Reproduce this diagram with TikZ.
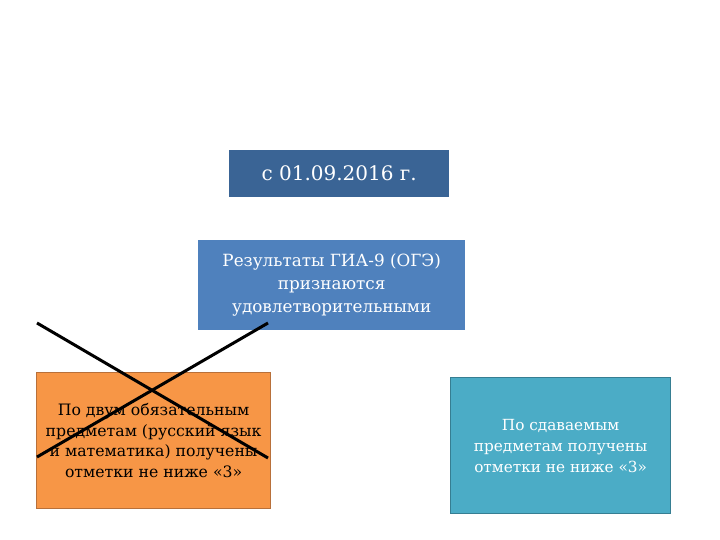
\documentclass[tikz,border=0pt]{standalone}
\usepackage{fontspec}
\setmainfont{DejaVu Serif}
\definecolor{dblue}{HTML}{3A6495}
\definecolor{mblue}{HTML}{4F81BD}
\definecolor{orng}{HTML}{F79646}
\definecolor{orngb}{HTML}{B8703A}
\definecolor{teal}{HTML}{4BACC6}
\definecolor{tealb}{HTML}{367E92}
\begin{document}
\begin{tikzpicture}[x=1pt,y=-1pt,
  boxs/.style={anchor=north west,inner sep=0pt,align=center},
  crossline/.style={line width=3pt,black}]
\useasboundingbox (0,0) rectangle (720,540);
\node[boxs,fill=dblue,minimum width=220pt,minimum height=47pt,text=white,font=\fontsize{20}{22}\selectfont] (date) at (229,150) {с 01.09.2016 г.};
\node[boxs,fill=mblue,minimum width=267pt,minimum height=90pt,text=white,font=\fontsize{16.8}{22.8}\selectfont] (res) at (198,240) {Результаты ГИА-9 (ОГЭ)\\признаются\\удовлетворительными};
\node[boxs,fill=orng,draw=orngb,line width=1.2pt,minimum width=234pt,minimum height=136pt,text=black,font=\fontsize{15.7}{20.8}\selectfont] (obl) at (36,372) {По двум обязательным\\предметам (русский язык\\и математика) получены\\отметки не ниже «3»};
\node[boxs,fill=teal,draw=tealb,line width=1.2pt,minimum width=220pt,minimum height=136pt,text=white,font=\fontsize{15.3}{21}\selectfont] (sd) at (450,377) {По сдаваемым\\предметам получены\\отметки не ниже «3»};
\coordinate (c1) at (37,323);
\coordinate (c2) at (268,458);
\coordinate (c3) at (268,323);
\coordinate (c4) at (37,457);
\draw[crossline] (c1) -- (c2);
\draw[crossline] (c3) -- (c4);
\end{tikzpicture}
\end{document}
